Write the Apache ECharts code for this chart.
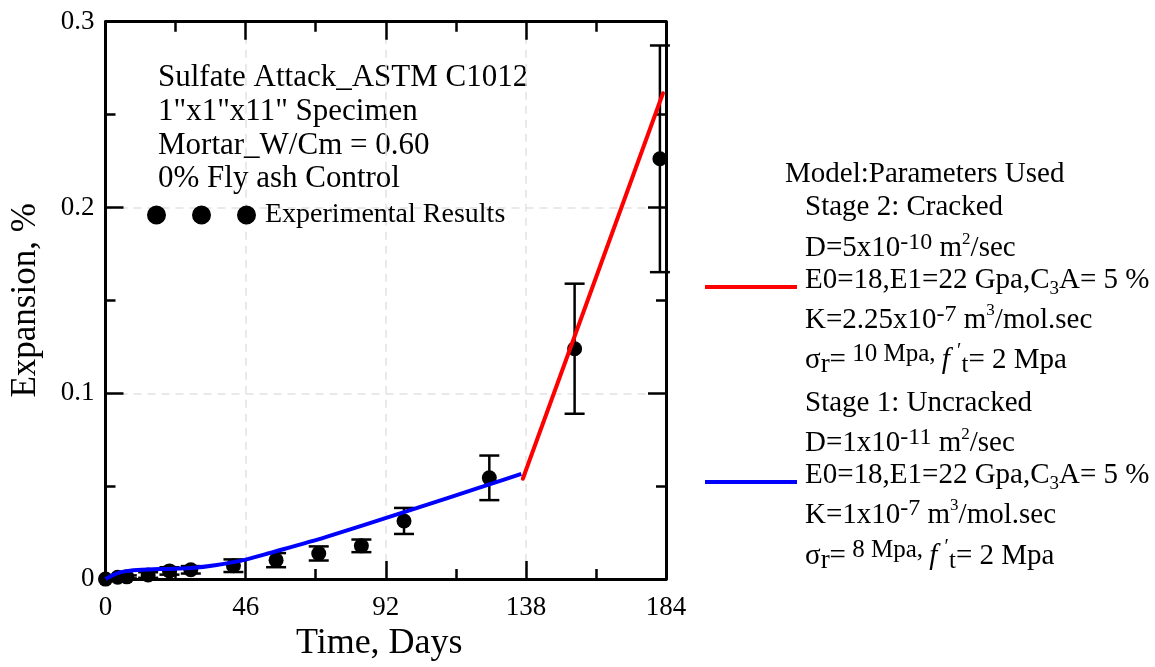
<!DOCTYPE html>
<html>
<head>
<meta charset="utf-8">
<title>Sulfate Attack Expansion</title>
<script src="https://cdn.jsdelivr.net/npm/echarts@6/dist/echarts.min.js"></script>
<style>
  html, body { margin: 0; padding: 0; background: #fff; }
  #chart { width: 1155px; height: 667px; }
</style>
</head>
<body>
<div id="chart"></div>
<script>
// Experimental results (days, expansion %, error half-range)
const expDays   = [0, 4, 7, 14, 21, 28, 42, 56, 70, 84, 98, 126, 154, 182];
const expValues = [0, 0.001, 0.0012, 0.0022, 0.0044, 0.005, 0.0072, 0.0102, 0.0138, 0.0179, 0.0313, 0.0545, 0.124, 0.2262];
const expErrors = [0, 0.0008, 0.0008, 0.0015, 0.002, 0.002, 0.0034, 0.0038, 0.0038, 0.0034, 0.007, 0.012, 0.035, 0.061];

// Model, stage 1 (uncracked)
const stage1Days   = [0, 2, 4, 7, 12, 20, 28, 36, 46, 56, 72, 98, 126, 136.5];
const stage1Values = [0, 0.0018, 0.0032, 0.0043, 0.005, 0.0055, 0.006, 0.0075, 0.0105, 0.015, 0.0225, 0.036, 0.051, 0.0566];

// Model, stage 2 (cracked)
const stage2Days   = [137, 183];
const stage2Values = [0.054, 0.2615];

// Axis ticks
const xTicks = [0, 46, 92, 138, 184];
const yTicks = [0, 0.1, 0.2, 0.3];

const FONT = "'Liberation Serif', 'Times New Roman', serif";

const pairs = (xs, ys) => xs.map((x, i) => [x, ys[i]]);
const expData = expDays.map((d, i) => [d, expValues[i], expErrors[i]]);

const gridCol = '#e2e2e2';

function mainAxisCommon() {
  return {
    axisLine: { show: true, onZero: false, lineStyle: { color: '#000', width: 3 } },
    axisTick: { show: true, inside: true, length: 18, lineStyle: { color: '#000', width: 2.5 } },
    minorTick: { show: true, splitNumber: 2, length: 10, lineStyle: { color: '#000', width: 2.5 } },
  };
}

const rich = {
  n:   { fontFamily: FONT, fontSize: 29, lineHeight: 36, fill: '#000', verticalAlign: 'middle' },
  sup: { fontFamily: FONT, fontSize: 24, lineHeight: 22, fill: '#000', verticalAlign: 'top' },
  sq:  { fontFamily: FONT, fontSize: 17, lineHeight: 30, fill: '#000', verticalAlign: 'top' },
  sub: { fontFamily: FONT, fontSize: 19, lineHeight: 21, fill: '#000', verticalAlign: 'bottom' },
  rs:  { fontFamily: FONT, fontSize: 27, lineHeight: 26, fill: '#000', verticalAlign: 'bottom' },
  sm:  { fontFamily: FONT, fontSize: 25, lineHeight: 31, fill: '#000', verticalAlign: 'top' },
  it:  { fontFamily: FONT, fontSize: 29, lineHeight: 36, fill: '#000', fontStyle: 'italic', verticalAlign: 'middle' },
  pr:  { fontFamily: FONT, fontSize: 20, lineHeight: 20, fill: '#000', verticalAlign: 'top' },
  ts:  { fontFamily: FONT, fontSize: 25, lineHeight: 17, fill: '#000', verticalAlign: 'bottom' }
};

function richLine(x, y, text) {
  return {
    type: 'text',
    style: { x: x, y: y, text: text, rich: rich, verticalAlign: 'middle', align: 'left',
             fontFamily: FONT, fontSize: 29, fill: '#000' }
  };
}

const panelX = 805;
const panelLines = [
  [174.7, '{n|Model:Parameters Used}', 785],
  [207.5, '{n|Stage 2: Cracked}'],
  [248.7, '{n|D=5x10}{sup|-10}{n| m}{sq|2}{n|/sec}'],
  [280.5, '{n|E0=18,E1=22 Gpa,C}{sub|3}{n|A= 5 %}'],
  [320.3, '{n|K=2.25x10}{sup|-7}{n| m}{sq|3}{n|/mol.sec}'],
  [360,   '{n|σ}{rs|r}{n|=}{sm| 10 Mpa, }{it|f }{pr|′}{ts|t}{n|= 2 Mpa}'],
  [403.3, '{n|Stage 1: Uncracked}'],
  [443.8, '{n|D=1x10}{sup|-11}{n| m}{sq|2}{n|/sec}'],
  [475.5, '{n|E0=18,E1=22 Gpa,C}{sub|3}{n|A= 5 %}'],
  [515,   '{n|K=1x10}{sup|-7}{n| m}{sq|3}{n|/mol.sec}'],
  [556,   '{n|σ}{rs|r}{n|=}{sm| 8 Mpa, }{it|f }{pr|′}{ts|t}{n|= 2 Mpa}']
];

const graphics = panelLines.map(l => richLine(l[2] || panelX, l[0], l[1]));

// legend swatches for the two model stages
graphics.push({
  type: 'line', shape: { x1: 705, y1: 287, x2: 797, y2: 287 },
  style: { stroke: '#ff0000', lineWidth: 4 }
});
graphics.push({
  type: 'line', shape: { x1: 705, y1: 482, x2: 797, y2: 482 },
  style: { stroke: '#0000ff', lineWidth: 4 }
});

// specimen description
graphics.push({
  type: 'text',
  style: {
    x: 158, y: 61,
    text: 'Sulfate Attack_ASTM C1012\n1"x1"x11" Specimen\nMortar_W/Cm = 0.60\n0% Fly ash Control',
    fontFamily: FONT, fontSize: 31, lineHeight: 33.8, fill: '#000',
    verticalAlign: 'top', align: 'left'
  }
});

const chart = echarts.init(document.getElementById('chart'), null, { renderer: 'canvas' });

chart.setOption({
  animation: false,
  backgroundColor: '#fff',
  grid: { left: 105.5, right: 489, top: 21.7, bottom: 85.3, containLabel: false },
  legend: {
    show: true,
    left: 147,
    top: 200,
    padding: 0,
    itemWidth: 109,
    itemHeight: 19,
    data: [{
      name: 'Experimental Results',
      icon: 'path://M0,9.5A9.5,9.5,0,1,0,19,9.5A9.5,9.5,0,1,0,0,9.5Z M45,9.5A9.5,9.5,0,1,0,64,9.5A9.5,9.5,0,1,0,45,9.5Z M90,9.5A9.5,9.5,0,1,0,109,9.5A9.5,9.5,0,1,0,90,9.5Z',
      itemStyle: { color: '#000', opacity: 1 }
    }],
    textStyle: { fontFamily: FONT, fontSize: 28, lineHeight: 30, color: '#000', padding: [0, 0, 0, 4] },
    selectedMode: false
  },
  xAxis: [
    Object.assign({
      type: 'value', position: 'bottom',
      min: xTicks[0], max: xTicks[xTicks.length - 1], interval: 46,
      name: 'Time, Days', nameLocation: 'middle', nameGap: 46,
      nameTextStyle: { fontFamily: FONT, fontSize: 36, lineHeight: 36, color: '#000', padding: [0, 13, 0, 0] },
      axisLabel: { show: true, margin: 15, fontFamily: FONT, fontSize: 27, color: '#000' },
      splitLine: { show: true, lineStyle: { color: gridCol, width: 1.5, type: [8, 6] } }
    }, mainAxisCommon()),
    Object.assign({
      type: 'value', position: 'top',
      min: xTicks[0], max: xTicks[xTicks.length - 1], interval: 46,
      axisLabel: { show: false },
      splitLine: { show: false }
    }, mainAxisCommon())
  ],
  yAxis: [
    Object.assign({
      type: 'value', position: 'left',
      min: yTicks[0], max: yTicks[yTicks.length - 1], interval: 0.1,
      name: 'Expansion, %', nameLocation: 'middle', nameGap: 62, nameRotate: 90,
      nameTextStyle: { fontFamily: FONT, fontSize: 35, lineHeight: 35, color: '#000' },
      axisLabel: {
        show: true, margin: 11, fontFamily: FONT, fontSize: 27, color: '#000',
        formatter: v => (v === 0 ? '0' : v.toFixed(1))
      },
      splitLine: { show: true, lineStyle: { color: gridCol, width: 1.5, type: [8, 6] } }
    }, mainAxisCommon()),
    Object.assign({
      type: 'value', position: 'right',
      min: yTicks[0], max: yTicks[yTicks.length - 1], interval: 0.1,
      axisLabel: { show: false },
      splitLine: { show: false }
    }, mainAxisCommon())
  ],
  graphic: graphics,
  series: [
    {
      name: 'Error',
      type: 'custom',
      clip: false,
      z: 2,
      data: expData,
      renderItem: function (params, api) {
        const x = api.value(0), y = api.value(1), e = api.value(2);
        if (!e) return null;
        const top = api.coord([x, y + e]);
        const bot = api.coord([x, y - e]);
        const hw = 10;
        const st = { stroke: '#000', lineWidth: 2.5 };
        return {
          type: 'group',
          children: [
            { type: 'line', shape: { x1: top[0], y1: top[1], x2: bot[0], y2: bot[1] }, style: st },
            { type: 'line', shape: { x1: top[0] - hw, y1: top[1], x2: top[0] + hw, y2: top[1] }, style: st },
            { type: 'line', shape: { x1: bot[0] - hw, y1: bot[1], x2: bot[0] + hw, y2: bot[1] }, style: st }
          ]
        };
      }
    },
    {
      name: 'Experimental Results',
      type: 'scatter',
      z: 3,
      symbol: 'circle',
      symbolSize: 15,
      itemStyle: { color: '#000', opacity: 1 },
      data: pairs(expDays, expValues)
    },
    {
      name: 'Stage 1: Uncracked',
      type: 'line',
      z: 4,
      showSymbol: false,
      smooth: 0.25,
      lineStyle: { color: '#0000ff', width: 4 },
      itemStyle: { color: '#0000ff' },
      data: pairs(stage1Days, stage1Values)
    },
    {
      name: 'Stage 2: Cracked',
      type: 'line',
      z: 4,
      showSymbol: false,
      lineStyle: { color: '#ff0000', width: 4, cap: 'round' },
      itemStyle: { color: '#ff0000' },
      data: pairs(stage2Days, stage2Values)
    }
  ]
});
</script>
</body>
</html>
